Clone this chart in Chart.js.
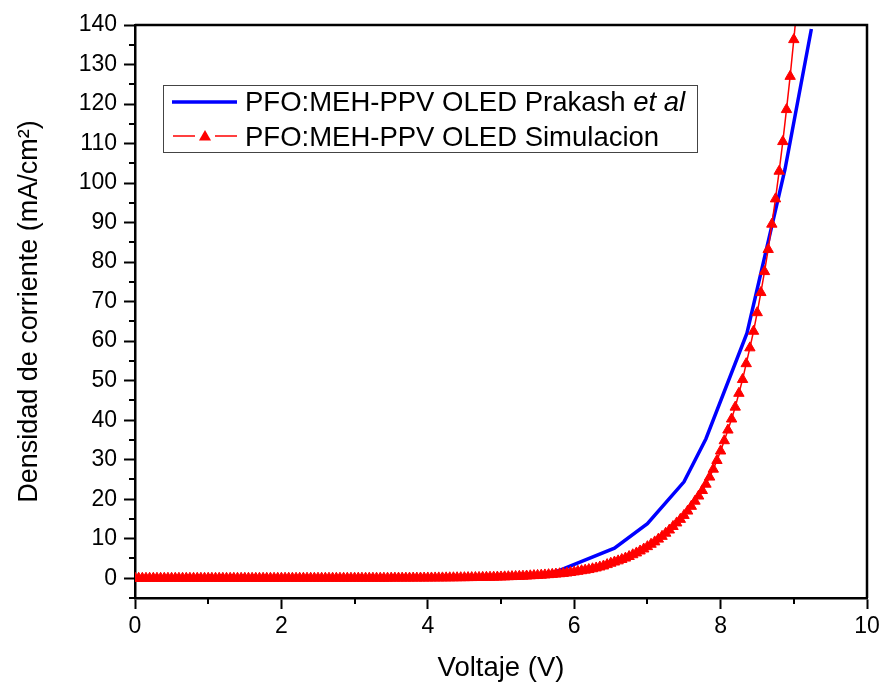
<!DOCTYPE html>
<html><head><meta charset="utf-8">
<script src="https://cdn.jsdelivr.net/npm/chart.js@4"></script>
<style>html,body{margin:0;padding:0;background:#fff}#wrap{width:885px;height:682px}</style>
</head><body><div id="wrap"><canvas id="c" width="885" height="682"></canvas></div>
<script>
const simVoltage = [
  0, 0.05, 0.1, 0.15, 0.2, 0.25, 0.3, 0.35, 0.4, 0.45,
  0.5, 0.55, 0.6, 0.65, 0.7, 0.75, 0.8, 0.85, 0.9, 0.95,
  1, 1.05, 1.1, 1.15, 1.2, 1.25, 1.3, 1.35, 1.4, 1.45,
  1.5, 1.55, 1.6, 1.65, 1.7, 1.75, 1.8, 1.85, 1.9, 1.95,
  2, 2.05, 2.1, 2.15, 2.2, 2.25, 2.3, 2.35, 2.4, 2.45,
  2.5, 2.55, 2.6, 2.65, 2.7, 2.75, 2.8, 2.85, 2.9, 2.95,
  3, 3.05, 3.1, 3.15, 3.2, 3.25, 3.3, 3.35, 3.4, 3.45,
  3.5, 3.55, 3.6, 3.65, 3.7, 3.75, 3.8, 3.85, 3.9, 3.95,
  4, 4.05, 4.1, 4.15, 4.2, 4.25, 4.3, 4.35, 4.4, 4.45,
  4.5, 4.55, 4.6, 4.65, 4.7, 4.75, 4.8, 4.85, 4.9, 4.95,
  5, 5.05, 5.1, 5.15, 5.2, 5.25, 5.3, 5.35, 5.4, 5.45,
  5.5, 5.55, 5.6, 5.65, 5.7, 5.75, 5.8, 5.85, 5.9, 5.95,
  6, 6.05, 6.1, 6.15, 6.2, 6.25, 6.3, 6.35, 6.4, 6.45,
  6.5, 6.55, 6.6, 6.65, 6.7, 6.75, 6.8, 6.85, 6.9, 6.95,
  7, 7.05, 7.1, 7.15, 7.2, 7.25, 7.3, 7.35, 7.4, 7.45,
  7.5, 7.55, 7.6, 7.65, 7.7, 7.75, 7.8, 7.85, 7.9, 7.95,
  8, 8.05, 8.1, 8.15, 8.2, 8.25, 8.3, 8.35, 8.4, 8.45,
  8.5, 8.55, 8.6, 8.65, 8.7, 8.75, 8.8, 8.85, 8.9, 8.95,
  9, 9.05
];
const simCurrent = [
  0, 0, 0, 0, 0, 0, 0, 0, 0, 0,
  0, 0, 0, 0, 0, 0, 0, 0, 0, 0,
  0, 0, 0, 0, 0, 0, 0, 0, 0, 0,
  0, 0, 0, 0, 0, 0, 0, 0, 0, 0,
  0.01, 0.01, 0.01, 0.01, 0.01, 0.01, 0.01, 0.01, 0.01, 0.01,
  0.01, 0.01, 0.01, 0.01, 0.01, 0.01, 0.01, 0.01, 0.01, 0.01,
  0.02, 0.02, 0.02, 0.02, 0.02, 0.02, 0.02, 0.02, 0.02, 0.02,
  0.03, 0.03, 0.03, 0.04, 0.04, 0.04, 0.05, 0.05, 0.06, 0.06,
  0.07, 0.07, 0.08, 0.09, 0.09, 0.1, 0.11, 0.12, 0.13, 0.14,
  0.15, 0.16, 0.17, 0.19, 0.2, 0.22, 0.24, 0.26, 0.28, 0.3,
  0.33, 0.36, 0.39, 0.42, 0.45, 0.49, 0.53, 0.57, 0.62, 0.67,
  0.72, 0.78, 0.84, 0.91, 0.98, 1.06, 1.14, 1.23, 1.33, 1.45,
  1.6, 1.75, 1.9, 2.05, 2.2, 2.4, 2.6, 2.85, 3.1, 3.45,
  3.8, 4.1, 4.4, 4.75, 5.1, 5.5, 5.95, 6.4, 6.9, 7.4,
  8.0, 8.6, 9.2, 9.9, 10.6, 11.4, 12.2, 13.1, 14.0, 14.9,
  15.9, 17.0, 18.2, 19.5, 20.8, 22.2, 23.8, 25.6, 27.6, 29.8,
  32.2, 34.8, 37.5, 40.3, 43.3, 46.8, 50.3, 54.3, 58.3, 62.5,
  67.2, 72.3, 77.6, 83.2, 89.6, 96.0, 103.0, 110.5, 118.6, 127.0,
  136.3, 146.0
];
const expVoltage = [0, 1, 2, 3, 4, 4.5, 5, 5.5, 5.8, 6.55, 7.0, 7.5, 7.8, 8.36, 8.88, 9.24];
const expCurrent = [0, 0, 0, 0, 0.05, 0.1, 0.2, 0.6, 2.0, 7.6, 13.8, 24.4, 35.3, 62, 103.5, 139];

const xMajorTicks = [0, 2, 4, 6, 8, 10];
const xMinorTicks = [1, 3, 5, 7, 9];
const yMajorTicks = [0, 10, 20, 30, 40, 50, 60, 70, 80, 90, 100, 110, 120, 130, 140];
const yMinorTicks = [-5, 5, 15, 25, 35, 45, 55, 65, 75, 85, 95, 105, 115, 125, 135];

const expLabel = 'PFO:MEH-PPV OLED Prakash ';
const expLabelItalic = 'et al';
const simLabel = 'PFO:MEH-PPV OLED Simulacion';
const xTitle = 'Voltaje (V)';
const yTitle = 'Densidad de corriente (mA/cm\u00B2)';

const FONT = '"Liberation Sans", Arial, Helvetica, sans-serif';
const RED = '#ff0000';
const BLUE = '#0000ff';

function tri(ctx, x, y, r) {
  ctx.beginPath();
  ctx.moveTo(x, y - r);
  ctx.lineTo(x + 0.866 * r, y + 0.5 * r);
  ctx.lineTo(x - 0.866 * r, y + 0.5 * r);
  ctx.closePath();
  ctx.fill();
}

const framePlugin = {
  id: 'frame',
  afterDraw(chart) {
    const { ctx, chartArea: a, scales } = chart;
    ctx.save();
    ctx.strokeStyle = '#000';
    ctx.lineWidth = 2;
    yMinorTicks.forEach(v => {
      const y = Math.round(scales.y.getPixelForValue(v));
      ctx.beginPath(); ctx.moveTo(a.left - 6, y); ctx.lineTo(a.left, y); ctx.stroke();
    });
    xMinorTicks.forEach(v => {
      const x = Math.round(scales.x.getPixelForValue(v));
      ctx.beginPath(); ctx.moveTo(x, a.bottom); ctx.lineTo(x, a.bottom + 6); ctx.stroke();
    });
    ctx.lineWidth = 2.5;
    ctx.beginPath();
    ctx.moveTo(a.left, a.top); ctx.lineTo(a.right, a.top); ctx.lineTo(a.right, a.bottom);
    ctx.stroke();

    // legend
    const lx = a.left + 28, ly = a.top + 60, lw = 534, lh = 67;
    ctx.fillStyle = '#fff';
    ctx.fillRect(lx, ly, lw, lh);
    ctx.lineWidth = 1;
    ctx.strokeStyle = '#444';
    ctx.strokeRect(lx + 0.5, ly + 0.5, lw, lh);

    ctx.strokeStyle = BLUE; ctx.lineWidth = 3.5;
    ctx.beginPath(); ctx.moveTo(a.left + 37, a.top + 77); ctx.lineTo(a.left + 102, a.top + 77); ctx.stroke();

    ctx.strokeStyle = RED; ctx.lineWidth = 1.5; ctx.fillStyle = RED;
    ctx.beginPath(); ctx.moveTo(a.left + 38, a.top + 111); ctx.lineTo(a.left + 60, a.top + 111); ctx.stroke();
    ctx.beginPath(); ctx.moveTo(a.left + 80, a.top + 111); ctx.lineTo(a.left + 102, a.top + 111); ctx.stroke();
    tri(ctx, a.left + 70, a.top + 112, 7);

    ctx.fillStyle = '#000';
    ctx.textBaseline = 'middle';
    ctx.textAlign = 'left';
    ctx.font = '27.5px ' + FONT;
    const tx = a.left + 110;
    ctx.fillText(expLabel, tx, a.top + 78);
    const w = ctx.measureText(expLabel).width;
    ctx.font = 'italic 27.5px ' + FONT;
    ctx.fillText(expLabelItalic, tx + w, a.top + 78);
    ctx.font = '27.5px ' + FONT;
    ctx.fillText(simLabel, tx, a.top + 113);
    ctx.restore();
  }
};

new Chart(document.getElementById('c'), {
  type: 'line',
  data: {
    datasets: [
      {
        label: simLabel,
        data: simVoltage.map((v, i) => ({ x: v, y: simCurrent[i] })),
        borderColor: RED, backgroundColor: RED, borderWidth: 1.5,
        pointStyle: 'triangle', pointRadius: 6, pointBorderWidth: 1,
        pointBackgroundColor: RED, pointBorderColor: RED,
        tension: 0, order: 0
      },
      {
        label: expLabel + expLabelItalic,
        data: expVoltage.map((v, i) => ({ x: v, y: expCurrent[i] })),
        borderColor: BLUE, backgroundColor: BLUE, borderWidth: 3.5,
        pointRadius: 0, tension: 0, order: 1
      }
    ]
  },
  options: {
    responsive: false, animation: false, devicePixelRatio: 1,
    layout: { padding: { top: 25, right: 18, left: 0, bottom: 0 } },
    plugins: { legend: { display: false }, tooltip: { enabled: false } },
    scales: {
      x: {
        type: 'linear', min: 0, max: 10,
        afterBuildTicks: s => { s.ticks = xMajorTicks.map(v => ({ value: v })); },
        afterFit: s => { s.height = 84; },
        ticks: { color: '#000', font: { family: FONT, size: 23 }, padding: 4, maxRotation: 0, autoSkip: false, callback: v => String(v) },
        grid: { drawOnChartArea: false, drawTicks: true, tickLength: 11, tickWidth: 2, tickColor: '#000' },
        border: { display: true, color: '#000', width: 2.5 },
        title: { display: true, text: xTitle, color: '#000', font: { family: FONT, size: 27.5, lineHeight: 1 }, padding: { top: 0, bottom: 0 } }
      },
      y: {
        type: 'linear', min: -5, max: 140,
        afterBuildTicks: s => { s.ticks = yMajorTicks.map(v => ({ value: v })); },
        afterFit: s => { s.width = 135; },
        ticks: { color: '#000', font: { family: FONT, size: 23 }, padding: 7, autoSkip: false, callback: v => String(v) },
        grid: { drawOnChartArea: false, drawTicks: true, tickLength: 11, tickWidth: 2, tickColor: '#000' },
        border: { display: true, color: '#000', width: 2.5 },
        title: { display: true, text: yTitle, color: '#000', font: { family: FONT, size: 27, lineHeight: 1 }, padding: { top: 16, bottom: 0 } }
      }
    }
  },
  plugins: [framePlugin]
});
</script>
</body></html>
